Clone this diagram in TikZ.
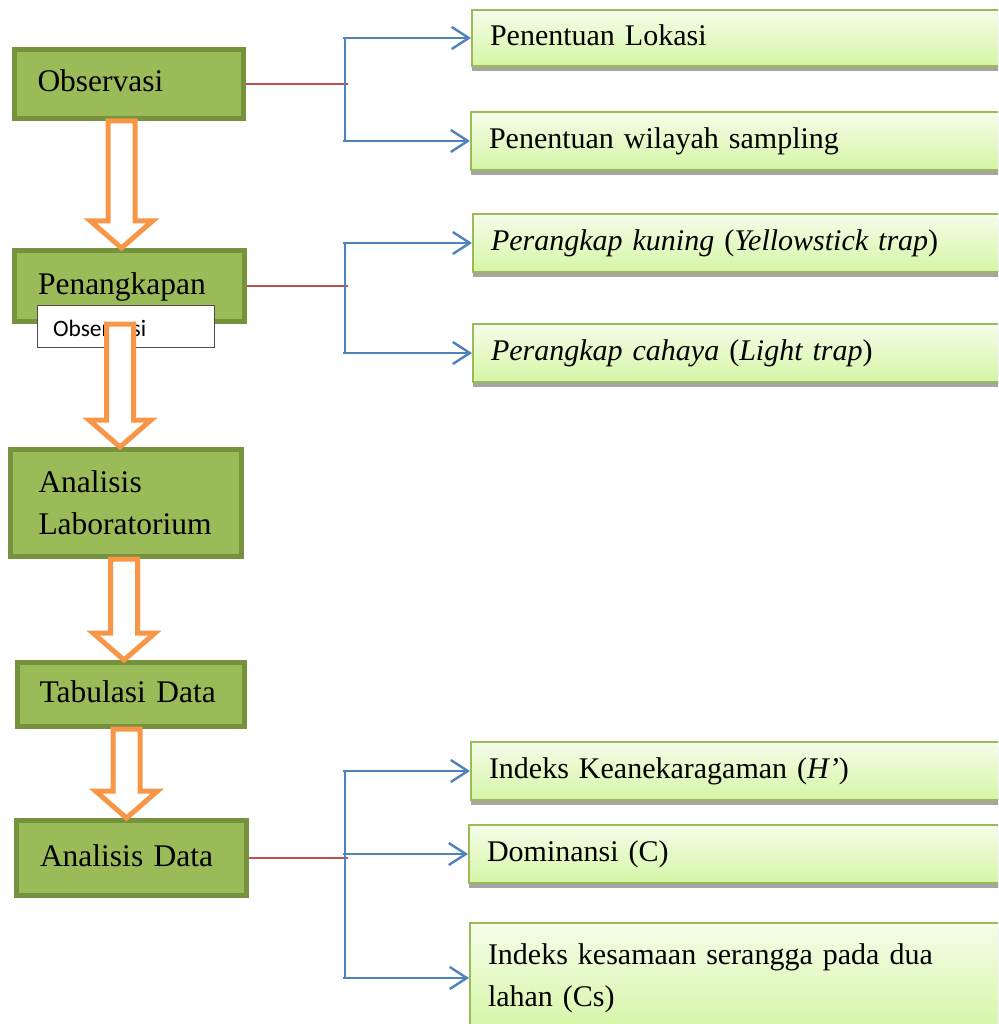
\documentclass[tikz,border=0pt]{standalone}
\usepackage{fontspec}
\setmainfont{Liberation Serif}
\newfontfamily\notefont{Carlito}
\usepackage{tikz}
\usetikzlibrary{arrows.meta}
\usetikzlibrary{calc}
\usetikzlibrary{positioning}
\usetikzlibrary{shadows}
\definecolor{stagefill}{HTML}{9BBB59}
\definecolor{stageline}{HTML}{76923C}
\definecolor{flowline}{HTML}{F79646}
\definecolor{tieline}{HTML}{C0504D}
\definecolor{branchline}{HTML}{4F81BD}
\definecolor{leaftop}{HTML}{F4FDE9}
\definecolor{leafbottom}{HTML}{D6F5A5}
\definecolor{leafline}{HTML}{9BBB59}
\definecolor{leafshadow}{HTML}{A5A5A5}
\tikzset{stage/.style={draw=stageline,
                       line width=5pt,
                       fill=stagefill,
                       inner xsep=22pt,
                       text width=183pt,
                       align=left,
                       text height=22pt,
                       text depth=6pt,
                       font=\fontsize{31.5pt}{42pt}\selectfont}}
\tikzset{leaf/.style={draw=leafline,
                      line width=2pt,
                      top color=leaftop,
                      bottom color=leafbottom,
                      drop shadow={shadow xshift=0pt,shadow yshift=-5pt,fill=leafshadow,opacity=1},
                      anchor=north west,
                      minimum height=58pt,
                      inner xsep=18pt,
                      text width=524pt,
                      align=left,
                      text height=21pt,
                      text depth=6pt,
                      font=\fontsize{30pt}{42pt}\selectfont}}
\tikzset{note/.style={draw=black!70,
                      line width=1pt,
                      fill=white,
                      inner xsep=16pt,
                      text width=145pt,
                      align=left,
                      text height=20pt,
                      text depth=0pt,
                      font=\notefont\fontsize{23.5pt}{28pt}\selectfont}}
\tikzset{flow/.style={draw=flowline,
                      line width=5pt,
                      fill=white,
                      line join=miter}}
\tikzset{tie/.style={draw=tieline,line width=2pt}}
\tikzset{branch/.style={draw=branchline,line width=2.4pt}}
\tikzset{branch arrow/.style={branch,-{Straight Barb[length=17pt,width=22pt]}}}

\begin{document}
\begin{tikzpicture}[x=1pt,y=-1pt]
      \useasboundingbox (0,0) rectangle (998,1024);
      \fill[white] (0,0) rectangle (998,1024);
      \clip (0,0) rectangle (998,1024);

      % stages
      \node [stage,minimum width=229pt,minimum height=69pt] (obs) at (129,84) {Observasi};
      \node [stage,minimum width=230pt,minimum height=71pt] (cap) at (129.5,286) {Penangkapan};
      \node [stage,minimum width=231pt,minimum height=107pt,inner xsep=28pt,text width=175pt,
             text height={},text depth={}] (lab) at (126,503) {Analisis\\Laboratorium};
      \node [stage,minimum width=227pt,minimum height=64pt] (tab) at (131,694.5) {Tabulasi Data};
      \node [stage,minimum width=230pt,minimum height=75pt] (dat) at (131.5,858) {Analisis Data};

      \node [note,minimum width=177pt,minimum height=42pt] (mark) at (125.5,326) {Observasi};

      % flow arrows
      \foreach \s/\t/\o in {obs/cap/-7.5,cap/lab/-9.5,lab/tab/-2,tab/dat/-4.5}
      {
      \path [flow] let \p1=($(\s.south)+(\o,0)$), \p2=(\t.north) in
      (\x1-13.5pt,\y1) -- (\x1+13.5pt,\y1) -- (\x1+13.5pt,\y2+27pt) -- (\x1+31pt,\y2+27pt)
      -- (\x1,\y2) -- (\x1-31pt,\y2+27pt) -- (\x1-13.5pt,\y2+27pt) -- cycle;
      }

      % leaves
      \node [leaf,minimum height=56pt] (loc) at (471,9) {Penentuan Lokasi};
      \node [leaf] (wil) at (470,111) {Penentuan wilayah sampling};
      \node [leaf] (kun) at (472,213) {\textit{Perangkap kuning} (\textit{Yellowstick trap})};
      \node [leaf] (cah) at (472,323) {\textit{Perangkap cahaya} (\textit{Light trap})};
      \node [leaf] (ken) at (470,741) {Indeks Keanekaragaman (\textit{H’})};
      \node [leaf] (dom) at (468,824) {Dominansi (C)};
      \node [leaf,minimum height=110pt,text height={},text depth={}] (sam) at (469,922)
      {Indeks kesamaan serangga pada dua\\lahan (Cs)};

      % branches
      \coordinate (fork) at (345,0);
      \foreach \a in {obs,cap,dat}
      {
      \draw [tie] (\a.east) -- ($(\a.east -| fork)+(3,0)$);
      }
      \draw [branch] (loc.west -| fork) -- (wil.west -| fork);
      \draw [branch] (kun.west -| fork) -- (cah.west -| fork);
      \draw [branch] (ken.west -| fork) -- (sam.west -| fork);
      \foreach \t in {loc,wil,kun,cah,ken,dom,sam}
      {
      \draw [branch arrow] ($(\t.west -| fork)+(-2,0)$) -- (\t.west);
      }

    \end{tikzpicture}
\end{document}
